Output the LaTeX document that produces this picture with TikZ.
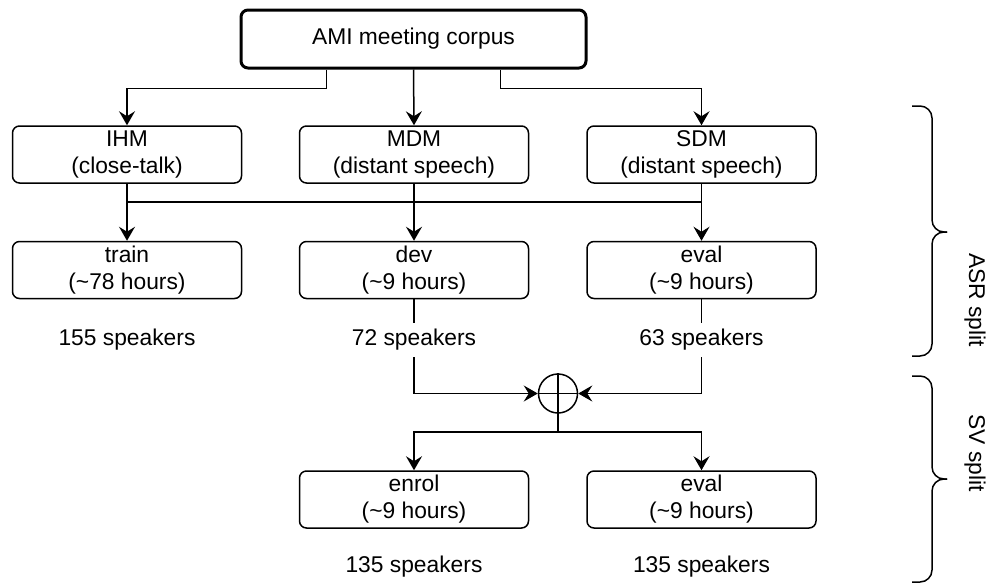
\documentclass[tikz,border=0pt]{standalone}
\usepackage{fontspec}
\setmainfont{Liberation Sans}
\usetikzlibrary{arrows.meta,calc}
\begin{document}
\begin{tikzpicture}[x=.5pt,y=-.5pt,
	font=\fontsize{11.4}{13.5}\selectfont,
	line width=.75pt,
	box/.style={draw, rounded corners=3.5pt, minimum width=114.5pt, minimum height=28.5pt, align=center, inner sep=0pt},
	spk/.style={fill=white, inner sep=3pt},
	arr/.style={-{Stealth[length=7pt,width=8pt,inset=2.5pt]}},
	splitbrace/.style={rounded corners=6pt}]
	\useasboundingbox (0,0) rectangle (989,584);
	
	\node[box, line width=1.5pt, minimum width=172.5pt, minimum height=29pt] (ami) at (413.5,39) {AMI meeting corpus};
	\node[box] (ihm) at (127,154.5) {IHM\\(close-talk)};
	\node[box] (mdm) at (414,154.5) {MDM\\(distant speech)};
	\node[box] (sdm) at (701.5,154.5) {SDM\\(distant speech)};
	
	\node[box] (train) at (127,270) {train\\(\textasciitilde78 hours)};
	\node[box] (dev) at (414,270) {dev\\(\textasciitilde9 hours)};
	\node[box] (asreval) at (701.5,270) {eval\\(\textasciitilde9 hours)};
	\node[spk] (trainspk) at (127,340) {155 speakers};
	\node[spk] (devspk) at (414,340) {72 speakers};
	\node[spk] (evalspk) at (701.5,340) {63 speakers};
	
	\node[draw, circle, minimum size=19.5pt, inner sep=0pt] (sum) at (558,393.5) {};
	\coordinate (fork) at (558,432);
	
	\node[box] (enrol) at (414,499.5) {enrol\\(\textasciitilde9 hours)};
	\node[box] (sveval) at (701.5,499.5) {eval\\(\textasciitilde9 hours)};
	\node[spk] (enrolspk) at (414,567) {135 speakers};
	\node[spk] (svevalspk) at (701.5,567) {135 speakers};
	
	% corpus to the three recordings
	\draw[arr] ($(ami.south west)!.25!(ami.south east)$) -- ++(0,19) -| (ihm.north);
	\draw[arr] (ami.south) -- (mdm.north);
	\draw[arr] ($(ami.south west)!.75!(ami.south east)$) -- ++(0,19) -| (sdm.north);
	
	% ASR split
	\coordinate (busleft) at (127,202);
	\coordinate (busright) at (701.5,202);
	\draw (ihm.south) -- (busleft) -- (busright) -- (sdm.south);
	\draw (mdm.south) -- (mdm.south |- busleft);
	\draw[arr] (busleft) -- (train.north);
	\draw[arr] (mdm.south |- busleft) -- (dev.north);
	\draw[arr] (busright) -- (asreval.north);
	
	% SV split
	\draw (dev.south) -- (devspk.north);
	\draw[arr] (devspk.south) |- (sum.west);
	\draw (asreval.south) -- (evalspk.north);
	\draw[arr] (evalspk.south) |- (sum.east);
	\draw (sum.north) -- (sum.south) (sum.west) -- (sum.east);
	\draw (sum.south) -- (fork);
	\draw[arr] (fork) -| (enrol.north);
	\draw[arr] (fork) -| (sveval.north);
	
	% braces
	\draw[splitbrace] (912,106) -- (932,106) -- (932,232) -- (947,232);
	\draw[splitbrace] (947,232) -- (932,232) -- (932,356) -- (912,356);
	\draw[splitbrace] (912,376) -- (932,376) -- (932,479) -- (947,479);
	\draw[splitbrace] (947,479) -- (932,479) -- (932,582) -- (912,582);
	\node[rotate=-90] (asrlabel) at (975,300) {ASR split};
	\node[rotate=-90] (svlabel) at (975,453) {SV split};
\end{tikzpicture}
\end{document}
